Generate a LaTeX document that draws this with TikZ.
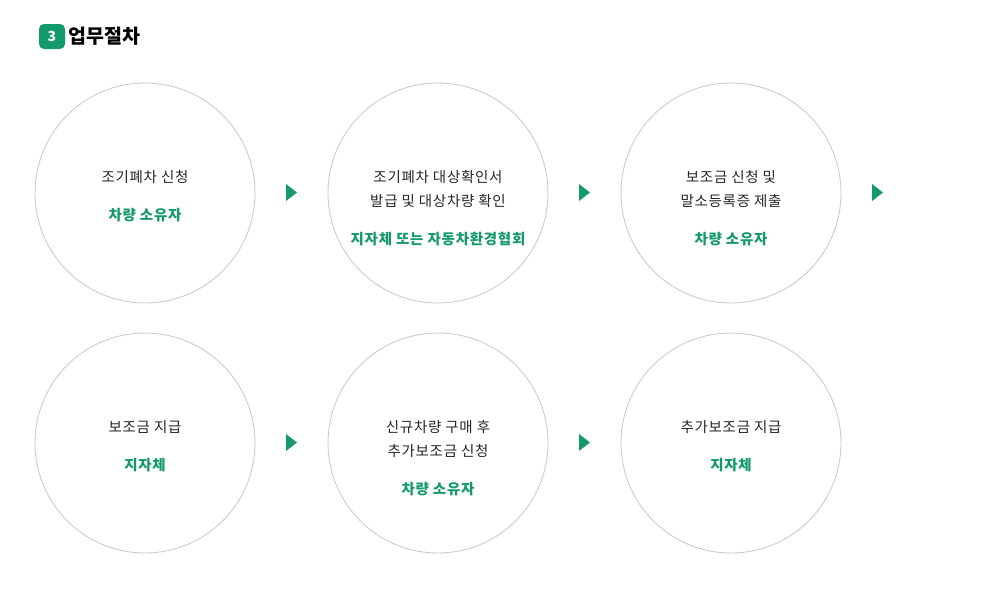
\documentclass[tikz,border=0pt]{standalone}
\usepackage{fontspec}
\setmainfont{Noto Sans CJK KR}
\definecolor{stepgreen}{HTML}{14996B}
\definecolor{ringgray}{HTML}{CCCCCC}
\begin{document}
\begin{tikzpicture}[x=1pt,y=-1pt,
    stepcircle/.style={draw=ringgray, line width=0.9pt, circle, minimum size=220pt, inner sep=0pt},
    steptext/.style={anchor=north, inner sep=0pt, align=center, text=black!85, font=\fontsize{14.5}{24}\selectfont\addfontfeature{LetterSpace=5}}]
    \useasboundingbox (0,0) rectangle (983,590);

    % title
    \node[fill=stepgreen, rounded corners=5pt, minimum width=26pt, minimum height=25pt, inner sep=0pt, text=white, font=\fontsize{14}{14}\bfseries\selectfont] (badge) at (52,36.5) {3};
    \node[anchor=west, inner sep=0pt, font=\fontsize{19.5}{19.5}\bfseries\selectfont] (title) at (68,36.5) {업무절차};

    % first row
    \node[stepcircle] (c1) at (145,193) {};
    \node[stepcircle] (c2) at (438,193) {};
    \node[stepcircle] (c3) at (731,193) {};
    \node[steptext] (t1) at (145,170) {조기폐차 신청\\[14pt]{\color{stepgreen}\bfseries 차량 소유자}};
    \node[steptext] (t2) at (438,170) {조기폐차 대상확인서\\발급 및 대상차량 확인\\[14pt]{\color{stepgreen}\bfseries 지자체 또는 자동차환경협회}};
    \node[steptext] (t3) at (731,170) {보조금 신청 및\\말소등록증 제출\\[14pt]{\color{stepgreen}\bfseries 차량 소유자}};

    % second row
    \node[stepcircle] (c4) at (145,443) {};
    \node[stepcircle] (c5) at (438,443) {};
    \node[stepcircle] (c6) at (731,443) {};
    \node[steptext] (t4) at (145,420) {보조금 지급\\[14pt]{\color{stepgreen}\bfseries 지자체}};
    \node[steptext] (t5) at (438,420) {신규차량 구매 후\\추가보조금 신청\\[14pt]{\color{stepgreen}\bfseries 차량 소유자}};
    \node[steptext] (t6) at (731,420) {추가보조금 지급\\[14pt]{\color{stepgreen}\bfseries 지자체}};

    % arrow markers
    \foreach \x/\y in {286/192.5, 579/192.5, 872/192.5, 286/442.5, 579/442.5}
        \fill[stepgreen] (\x,\y-8.5) -- (\x+11,\y) -- (\x,\y+8.5) -- cycle;
\end{tikzpicture}
\end{document}
